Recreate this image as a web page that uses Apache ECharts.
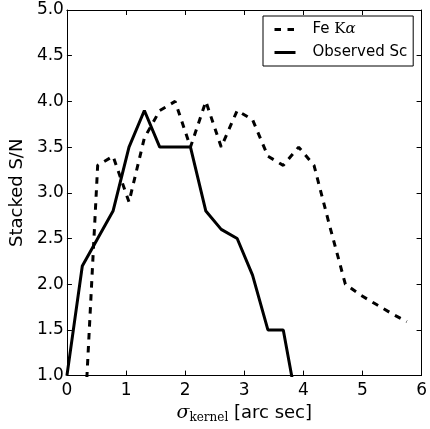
<!DOCTYPE html>
<html>
<head>
<meta charset="utf-8">
<script src="https://cdn.jsdelivr.net/npm/echarts@6/dist/echarts.min.js"></script>
<style>
html,body{margin:0;padding:0;background:#fff;}
#chart{width:430px;height:429px;}
</style>
</head>
<body>
<div id="chart"></div>
<script>
// sigma_kernel sample positions (arc sec)
const sigmaKernel = [0, 0.26, 0.52, 0.78, 1.05, 1.31, 1.57, 1.83, 2.09, 2.35, 2.61, 2.88, 3.14, 3.40, 3.66, 3.92, 4.18, 4.44, 4.71, 4.97, 5.23, 5.49, 5.75];
// Fe K-alpha stacked S/N
const feKalpha = [0.0, 0.0, 3.3, 3.4, 2.9, 3.6, 3.9, 4.0, 3.5, 4.0, 3.5, 3.9, 3.8, 3.4, 3.3, 3.5, 3.3, 2.65, 2.0, 1.88, 1.78, 1.68, 1.59];
// Observed Sc stacked S/N
const observedSc = [1.0, 2.2, 2.5, 2.8, 3.5, 3.9, 3.5, 3.5, 3.5, 2.8, 2.6, 2.5, 2.1, 1.5, 1.5, 0.58];
const xTicks = [0, 1, 2, 3, 4, 5, 6];
const yTicks = [1.0, 1.5, 2.0, 2.5, 3.0, 3.5, 4.0, 4.5, 5.0];

const feData = feKalpha.map((v, i) => [sigmaKernel[i], v]);
const scData = observedSc.map((v, i) => [sigmaKernel[i], v]);

const SANS = 'DejaVu Sans';
const SERIF = 'DejaVu Serif';
const tickStyle = {show: true, inside: true, length: 5, lineStyle: {color: '#000', width: 1}};
const lineAx = {show: true, onZero: false, lineStyle: {color: '#000', width: 1}};
const dashPattern = [6.5, 6.5];

const chart = echarts.init(document.getElementById('chart'), null, {renderer: 'canvas'});
chart.setOption({
  animation: false,
  backgroundColor: '#fff',
  grid: {left: 65, right: 8, top: 10, bottom: 51, containLabel: false},
  xAxis: [
    {
      type: 'value', min: xTicks[0], max: xTicks[xTicks.length - 1], interval: 1, position: 'bottom',
      axisLine: lineAx, axisTick: tickStyle, splitLine: {show: false},
      axisLabel: {fontSize: 17, color: '#000', fontFamily: SANS, margin: 6},
      name: '{sig|σ}{sub|kernel}{n| [arc sec]}',
      nameLocation: 'middle', nameGap: 22,
      nameTextStyle: {
        color: '#000', fontSize: 18, fontFamily: SANS,
        rich: {
          sig: {fontSize: 19, fontFamily: SERIF, fontStyle: 'italic', color: '#000'},
          sub: {fontSize: 12, fontFamily: SERIF, color: '#000', padding: [10, 0, 0, 0]},
          n: {fontSize: 18, fontFamily: SANS, color: '#000'}
        }
      }
    },
    {
      type: 'value', min: xTicks[0], max: xTicks[xTicks.length - 1], interval: 1, position: 'top',
      axisLine: lineAx, axisTick: tickStyle, splitLine: {show: false}, axisLabel: {show: false}
    }
  ],
  yAxis: [
    {
      type: 'value', min: yTicks[0], max: yTicks[yTicks.length - 1], interval: 0.5, position: 'left',
      axisLine: lineAx, axisTick: tickStyle, splitLine: {show: false},
      axisLabel: {fontSize: 17, color: '#000', fontFamily: SANS, margin: 3, formatter: v => v.toFixed(1)},
      name: 'Stacked S/N', nameLocation: 'middle', nameRotate: 90, nameGap: 38,
      nameTextStyle: {color: '#000', fontSize: 18, fontFamily: SANS}
    },
    {
      type: 'value', min: yTicks[0], max: yTicks[yTicks.length - 1], interval: 0.5, position: 'right',
      axisLine: lineAx, axisTick: tickStyle, splitLine: {show: false}, axisLabel: {show: false}
    }
  ],
  legend: {
    orient: 'vertical', left: 263, top: 16,
    padding: [6, 6, 6, 10], itemGap: 8, itemWidth: 21, itemHeight: 14,
    backgroundColor: '#fff', borderColor: '#000', borderWidth: 1, borderRadius: 0,
    itemStyle: {opacity: 0, borderWidth: 0},
    textStyle: {
      fontSize: 15, color: '#000', fontFamily: SANS, padding: [0, 0, 0, 12],
      rich: {
        f: {fontSize: 15, fontFamily: SANS, color: '#000'},
        k: {fontSize: 15, fontFamily: SERIF, color: '#000'},
        a: {fontSize: 15, fontFamily: SERIF, fontStyle: 'italic', color: '#000'}
      }
    },
    formatter: name => name === 'Fe Kα' ? '{f|Fe }{k|K}{a|α}' : name,
    data: [
      {name: 'Fe Kα', lineStyle: {width: 3, color: '#000', type: dashPattern}},
      {name: 'Observed Sc', lineStyle: {width: 3, color: '#000', type: 'solid'}}
    ]
  },
  series: [
    {
      name: 'Fe Kα', type: 'line', xAxisIndex: 0, yAxisIndex: 0, data: feData,
      symbol: 'none', clip: true,
      lineStyle: {color: '#000', width: 3, type: dashPattern, cap: 'butt'},
      itemStyle: {color: '#000'}
    },
    {
      name: 'Observed Sc', type: 'line', xAxisIndex: 0, yAxisIndex: 0, data: scData,
      symbol: 'none', clip: true,
      lineStyle: {color: '#000', width: 3, type: 'solid'},
      itemStyle: {color: '#000'}
    }
  ]
});
</script>
</body>
</html>
